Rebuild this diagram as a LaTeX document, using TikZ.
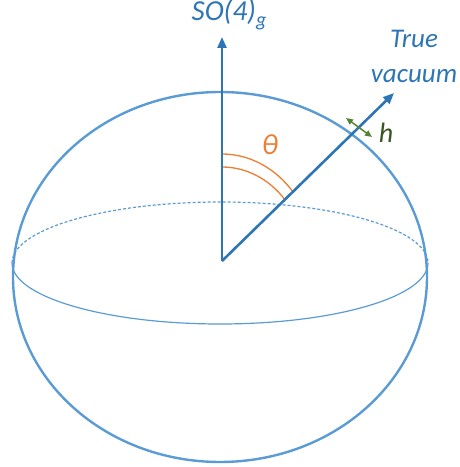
\documentclass[tikz,border=0pt]{standalone}
\usepackage{fontspec}
\setmainfont{Carlito}
\usetikzlibrary{arrows.meta}
\definecolor{axblue}{HTML}{2E75B6}
\definecolor{shblue}{HTML}{5B9BD5}
\definecolor{thorange}{HTML}{ED7D31}
\definecolor{hgreen}{HTML}{548235}
\definecolor{hdkgreen}{HTML}{385723}

\begin{document}
\begin{tikzpicture}[
  x=1pt, y=1pt,
  axisline/.style={draw=axblue, line width=2.6pt, -{Triangle[length=11pt, width=9pt]}},
  shell/.style={draw=shblue, line width=2.4pt},
  equator/.style={draw=shblue, line width=1.2pt},
  anglearc/.style={draw=thorange, line width=1.3pt},
  lbl/.style={font=\fontsize{27}{36}\selectfont\itshape, text=axblue, align=center},
]
\useasboundingbox (0,0) rectangle (459,467);
\coordinate (O) at (222,206);
\coordinate (top) at (222,430);
\coordinate (vac) at (394,374);
\coordinate (hA) at (346,349);
\coordinate (hB) at (372,330);
% sphere and equator
\draw[shell] (220,190) ellipse [x radius=207, y radius=185];
\draw[equator, dash pattern=on 3pt off 2pt] (12,204) arc[start angle=180, end angle=0, x radius=208, y radius=61];
\draw[equator] (12,204) arc[start angle=180, end angle=360, x radius=208, y radius=61];
% angle
\draw[anglearc] (O) ++(0,107) arc[start angle=90, end angle=39.5, x radius=93, y radius=107];
\draw[anglearc] (O) ++(0,94) arc[start angle=90, end angle=40.5, x radius=83, y radius=94];
% axes
\draw[axisline] (O) -- (top);
\draw[axisline] (O) -- (vac);
\draw[draw=hgreen, line width=1.5pt, {Triangle[length=7pt, width=6pt]}-{Triangle[length=7pt, width=6pt]}] (hA) -- (hB);
% labels
\node[font=\fontsize{29}{32}\selectfont\itshape, text=axblue, anchor=base] (so) at (229,446) {SO(4)\raisebox{-6pt}{\fontsize{20}{22}\selectfont g}};
\node[lbl, anchor=base] (tv) at (414,384) {True\\vacuum};
\node[font=\fontsize{29}{32}\selectfont\itshape, text=thorange] (th) at (270,322) {θ};
\node[font=\fontsize{28}{30}\selectfont\itshape, text=hdkgreen] (hl) at (386,334) {h};
\end{tikzpicture}
\end{document}
